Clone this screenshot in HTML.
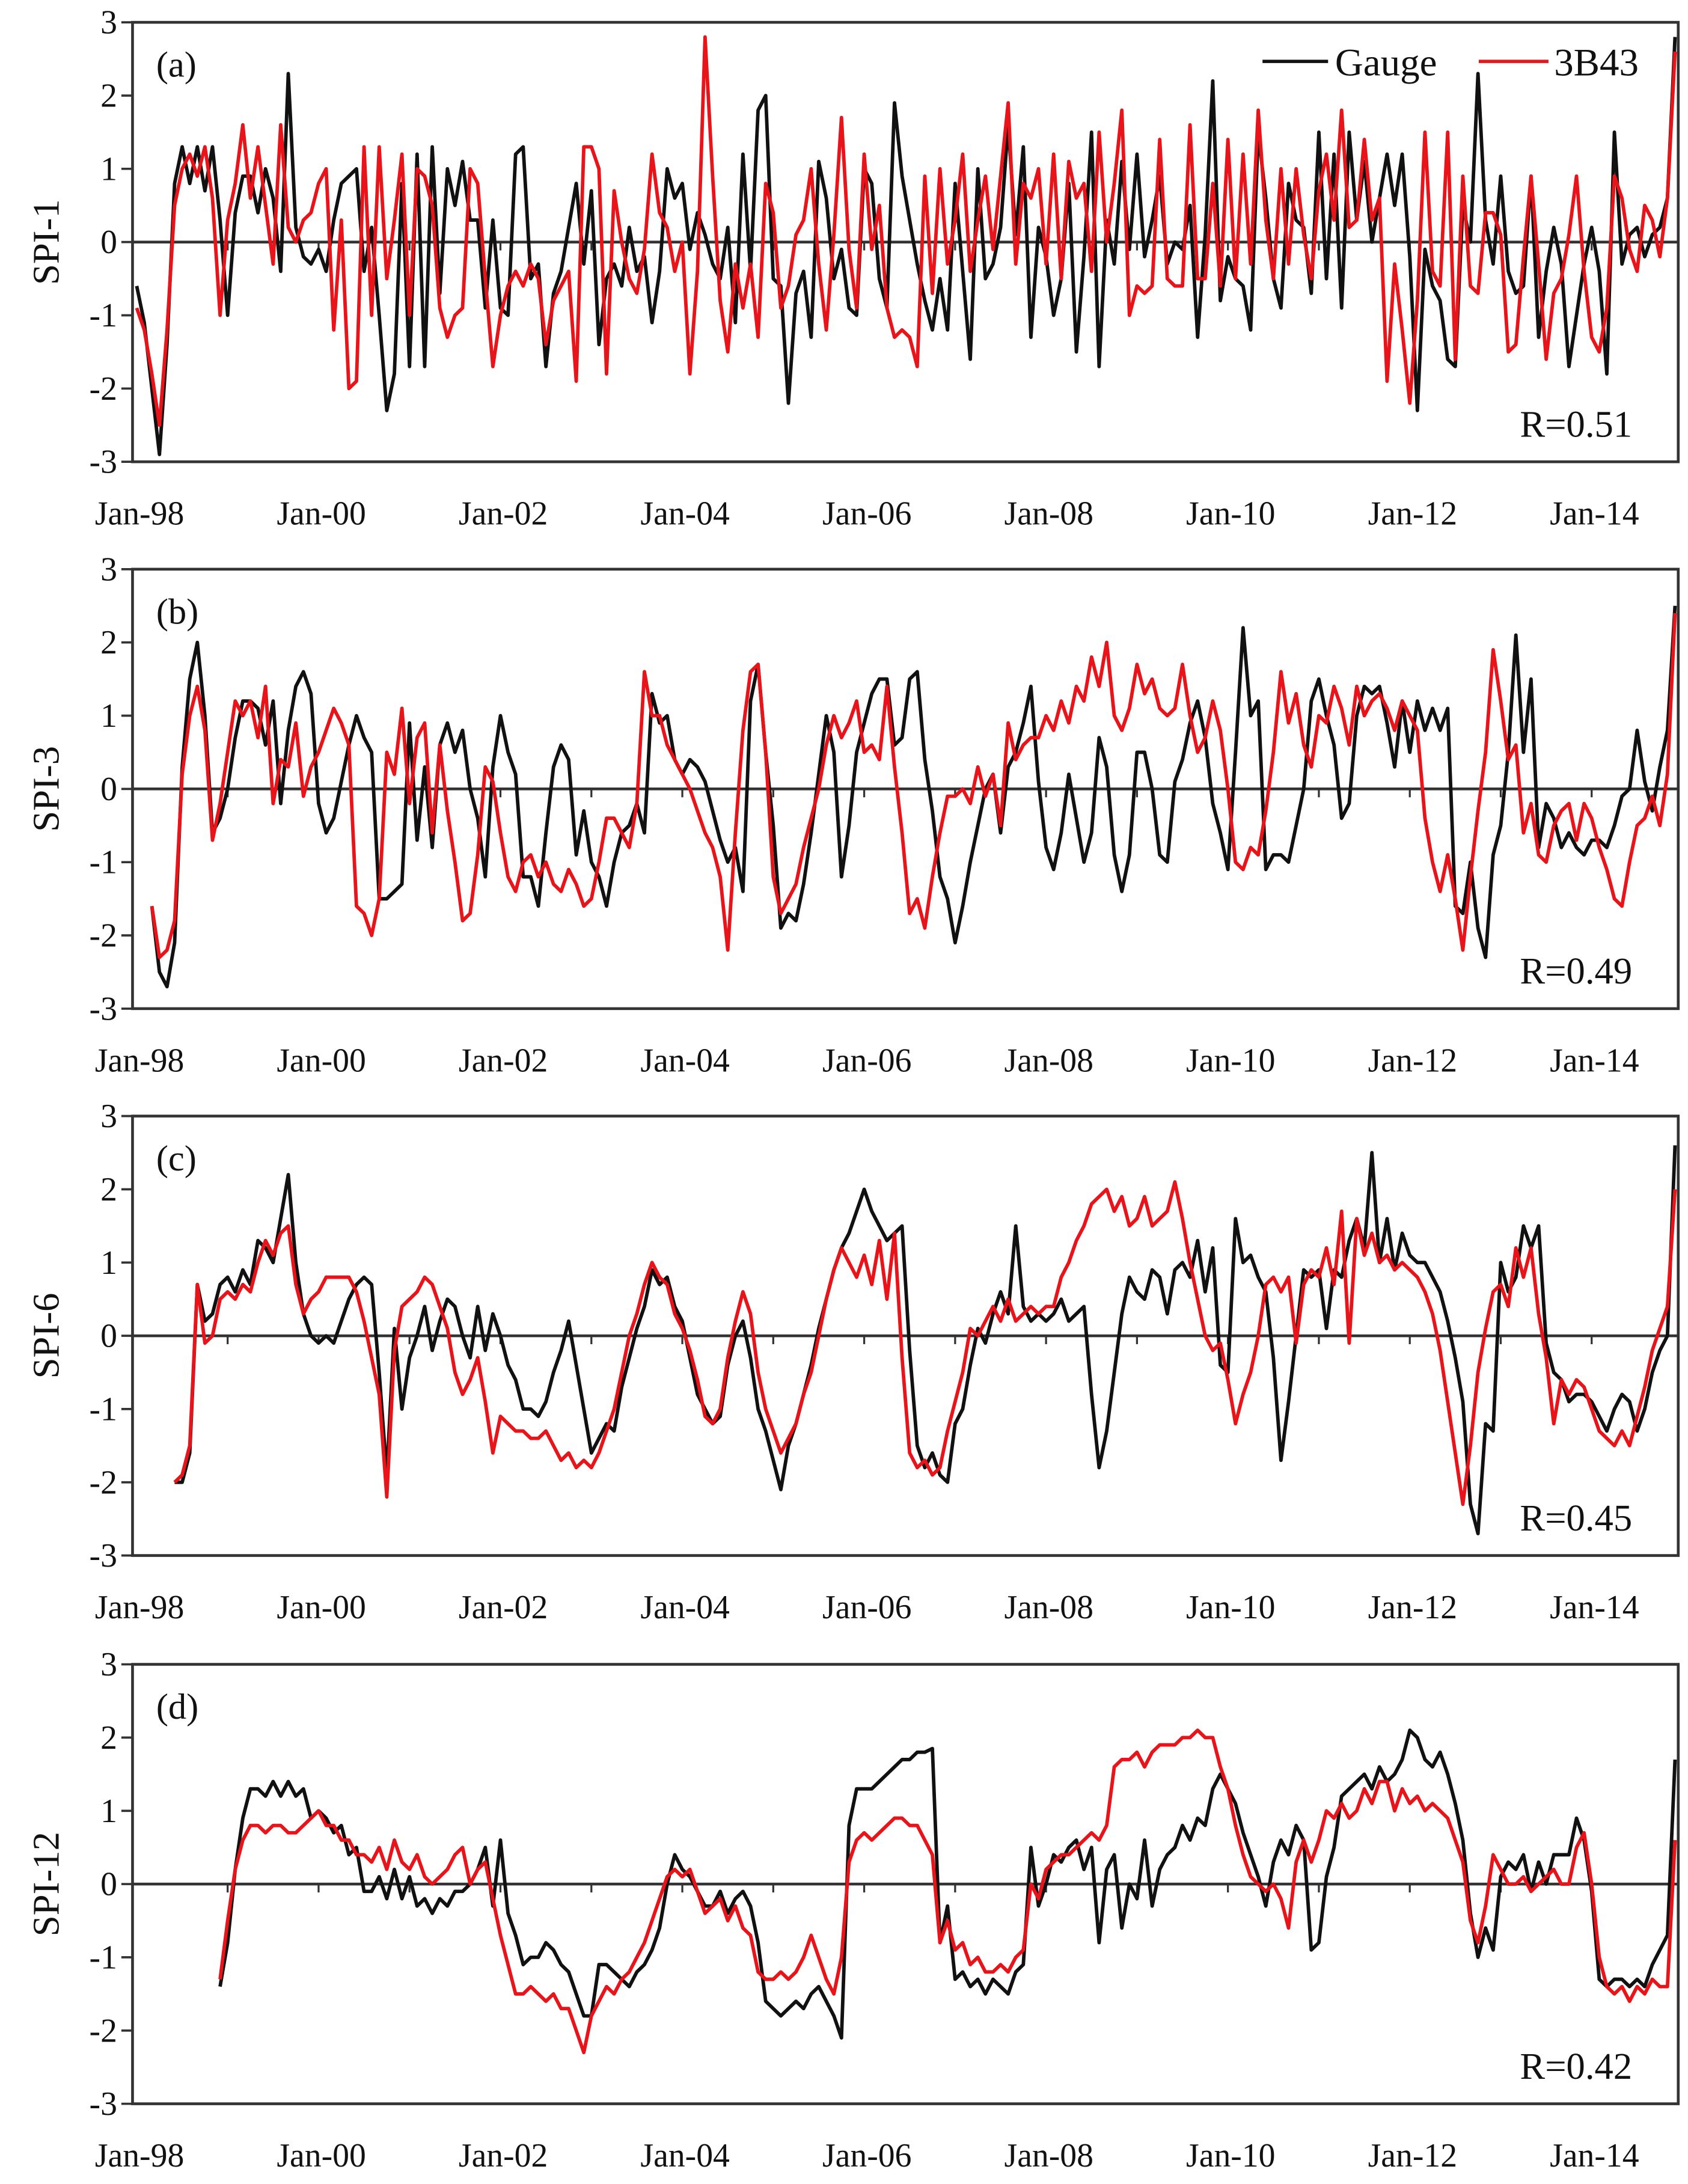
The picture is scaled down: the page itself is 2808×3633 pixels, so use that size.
<!DOCTYPE html>
<html><head><meta charset="utf-8"><style>
html,body{margin:0;padding:0;background:#fff}
svg{display:block}
text{font-family:"Liberation Serif",serif;fill:#111}
</style></head><body>
<svg id="chart" width="2808" height="3633" viewBox="0 0 1210 1565.5" preserveAspectRatio="none" xmlns="http://www.w3.org/2000/svg"></svg>
<script>
const N = null;
const tickLabels = ["Jan-98","Jan-00","Jan-02","Jan-04","Jan-06","Jan-08","Jan-10","Jan-12","Jan-14"];
const yTicks = [3,2,1,0,-1,-2,-3];
const panelLabels = ["(a)","(b)","(c)","(d)"];
const yTitles = ["SPI-1","SPI-3","SPI-6","SPI-12"];
const rValues = ["R=0.51","R=0.49","R=0.45","R=0.42"];

const gaugeA = [-0.6,-1.1,-2.0,-2.9,-1.4,0.8,1.3,0.8,1.3,0.7,1.3,0.3,
-1.0,0.4,0.9,0.9,0.4,1.0,0.6,-0.4,2.3,0.2,-0.2,-0.3,
-0.1,-0.4,0.3,0.8,0.9,1.0,-0.4,0.2,-1.0,-2.3,-1.8,0.8,
-1.7,1.2,-1.7,1.3,-0.7,1.0,0.5,1.1,0.3,0.3,-0.9,0.3,
-0.9,-1.0,1.2,1.3,-0.5,-0.3,-1.7,-0.7,-0.4,0.2,0.8,-0.3,
0.7,-1.4,-0.5,-0.3,-0.6,0.2,-0.4,-0.2,-1.1,-0.4,1.0,0.6,
0.8,-0.1,0.4,0.1,-0.3,-0.5,0.2,-1.1,1.2,-0.4,1.8,2.0,
-0.5,-0.6,-2.2,-0.7,-0.4,-1.3,1.1,0.6,-0.5,-0.1,-0.9,-1.0,
1.0,0.8,-0.5,-0.9,1.9,0.9,0.3,-0.3,-0.8,-1.2,-0.5,-1.2,
0.8,-0.4,-1.6,1.0,-0.5,-0.3,0.2,1.6,0.1,1.3,-1.3,0.2,
-0.2,-1.0,-0.5,0.8,-1.5,-0.2,1.5,-1.7,0.3,-0.3,1.1,-0.1,
1.2,-0.2,0.3,0.9,-0.3,0.0,-0.1,0.5,-1.3,0.1,2.2,-0.8,
-0.2,-0.5,-0.6,-1.2,1.5,0.6,-0.5,-0.9,0.8,0.3,0.2,-0.7,
1.5,-0.5,1.2,-0.9,1.5,0.3,1.1,0.0,0.6,1.2,0.5,1.2,
-0.2,-2.3,-0.1,-0.6,-0.8,-1.6,-1.7,0.5,0.0,2.3,0.3,-0.3,
0.9,-0.4,-0.7,-0.6,0.9,-1.3,-0.4,0.2,-0.3,-1.7,-1.0,-0.3,
0.2,-0.4,-1.8,1.5,-0.3,0.1,0.2,-0.2,0.1,0.2,0.6,2.8];
const satA = [-0.9,-1.2,-1.8,-2.5,-1.2,0.5,1.0,1.2,0.9,1.3,0.6,-1.0,
0.3,0.8,1.6,0.6,1.3,0.5,-0.3,1.6,0.2,0.0,0.3,0.4,
0.8,1.0,-1.2,0.3,-2.0,-1.9,1.3,-1.0,1.3,-0.5,0.3,1.2,
-1.0,1.0,0.9,0.5,-0.9,-1.3,-1.0,-0.9,1.0,0.8,-0.5,-1.7,
-1.0,-0.6,-0.4,-0.6,-0.3,-0.5,-1.4,-0.8,-0.6,-0.4,-1.9,1.3,
1.3,1.0,-1.8,0.7,0.0,-0.5,-0.7,-0.1,1.2,0.4,0.2,-0.4,
0.0,-1.8,-0.4,2.8,0.9,-0.8,-1.5,-0.3,-0.9,-0.3,-1.3,0.8,
0.4,-0.9,-0.6,0.1,0.3,1.0,-0.3,-1.2,0.1,1.7,-0.1,-0.9,
1.2,-0.1,0.5,-0.9,-1.3,-1.2,-1.3,-1.7,0.9,-0.7,1.0,-0.3,
0.3,1.2,-0.4,0.3,0.9,-0.1,0.9,1.9,-0.3,0.8,0.6,1.0,
-0.3,1.2,-0.5,1.1,0.6,0.8,-0.4,1.5,0.0,0.8,1.8,-1.0,
-0.6,-0.7,-0.6,1.4,-0.5,-0.6,-0.6,1.6,-0.5,-0.5,0.8,-0.6,
1.4,-0.5,1.2,-0.3,1.8,0.3,-0.5,1.0,-0.3,1.0,0.1,-0.5,
0.7,1.2,0.3,1.8,0.2,0.3,1.4,0.3,0.6,-1.9,-0.3,-1.2,
-2.2,-0.8,1.5,-0.4,-0.6,1.5,-1.6,0.9,-0.6,-0.7,0.4,0.4,
0.1,-1.5,-1.4,-0.2,0.9,-0.3,-1.6,-0.7,-0.5,0.1,0.9,-0.4,
-1.3,-1.5,-0.9,0.9,0.6,-0.1,-0.4,0.5,0.3,-0.2,0.6,2.6];

const gaugeB = [N,N,-1.6,-2.5,-2.7,-2.1,0.3,1.5,2.0,1.0,-0.6,-0.4,
0.0,0.7,1.2,1.2,1.1,0.6,1.2,-0.2,0.8,1.4,1.6,1.3,
-0.2,-0.6,-0.4,0.1,0.6,1.0,0.7,0.5,-1.5,-1.5,-1.4,-1.3,
0.9,-0.7,0.3,-0.8,0.6,0.9,0.5,0.8,0.0,-0.4,-1.2,0.3,
1.0,0.5,0.2,-1.2,-1.2,-1.6,-0.6,0.3,0.6,0.4,-0.9,-0.3,
-1.0,-1.2,-1.6,-1.0,-0.6,-0.5,-0.2,-0.6,1.3,0.9,1.0,0.4,
0.2,0.4,0.3,0.1,-0.3,-0.7,-1.0,-0.8,-1.4,1.2,1.7,0.5,
-0.5,-1.9,-1.7,-1.8,-1.3,-0.6,0.2,1.0,0.5,-1.2,-0.5,0.5,
0.9,1.3,1.5,1.5,0.6,0.7,1.5,1.6,0.4,-0.3,-1.2,-1.5,
-2.1,-1.6,-1.0,-0.5,0.0,0.2,-0.6,0.3,0.5,0.9,1.4,0.1,
-0.8,-1.1,-0.6,0.2,-0.4,-1.0,-0.6,0.7,0.3,-0.9,-1.4,-0.9,
0.5,0.5,0.0,-0.9,-1.0,0.1,0.4,0.9,1.2,0.7,-0.2,-0.6,
-1.1,0.5,2.2,1.0,1.2,-1.1,-0.9,-0.9,-1.0,-0.5,0.0,1.2,
1.5,1.0,0.6,-0.4,-0.2,1.0,1.4,1.3,1.4,0.9,0.3,1.2,
0.5,1.2,0.8,1.1,0.8,1.1,-1.6,-1.7,-1.0,-1.9,-2.3,-0.9,
-0.5,0.5,2.1,0.5,1.5,-0.8,-0.2,-0.4,-0.8,-0.6,-0.8,-0.9,
-0.7,-0.7,-0.8,-0.5,-0.1,0.0,0.8,0.1,-0.3,0.3,0.8,2.5];
const satB = [N,N,-1.6,-2.3,-2.2,-1.8,0.2,1.0,1.4,0.8,-0.7,-0.2,
0.5,1.2,1.0,1.2,0.7,1.4,-0.2,0.4,0.3,0.9,-0.1,0.3,
0.5,0.8,1.1,0.9,0.6,-1.6,-1.7,-2.0,-1.5,0.5,0.2,1.1,
-0.2,0.7,0.9,-0.6,0.6,-0.3,-1.0,-1.8,-1.7,-0.9,0.3,0.1,
-0.6,-1.2,-1.4,-1.0,-0.9,-1.2,-1.0,-1.3,-1.4,-1.1,-1.3,-1.6,
-1.5,-1.0,-0.4,-0.4,-0.6,-0.8,-0.2,1.6,1.0,1.0,0.6,0.4,
0.2,0.0,-0.3,-0.6,-0.8,-1.2,-2.2,-0.6,0.8,1.6,1.7,0.5,
-1.2,-1.7,-1.5,-1.3,-0.8,-0.4,0.0,0.6,1.0,0.7,0.9,1.2,
0.5,0.6,0.4,1.4,0.3,-0.6,-1.7,-1.5,-1.9,-1.2,-0.6,-0.1,
-0.1,0.0,-0.2,0.3,-0.1,0.2,-0.5,0.9,0.4,0.6,0.7,0.7,
1.0,0.8,1.2,0.9,1.4,1.2,1.8,1.4,2.0,1.0,0.8,1.1,
1.7,1.3,1.5,1.1,1.0,1.1,1.7,1.0,0.5,0.7,1.2,0.8,
0.0,-1.0,-1.1,-0.8,-0.9,-0.3,0.5,1.6,0.9,1.3,0.6,0.3,
1.0,0.9,1.4,1.1,0.6,1.4,1.0,1.2,1.3,1.1,0.8,1.2,
1.0,0.8,-0.4,-1.0,-1.4,-0.9,-1.5,-2.2,-1.2,-0.3,0.5,1.9,
1.2,0.4,0.6,-0.6,-0.2,-0.9,-1.0,-0.5,-0.3,-0.2,-0.7,-0.2,
-0.4,-0.8,-1.1,-1.5,-1.6,-1.0,-0.5,-0.4,-0.1,-0.5,0.2,2.4];

const gaugeC = [N,N,N,N,N,-2.0,-2.0,-1.6,0.7,0.2,0.3,0.7,
0.8,0.6,0.9,0.7,1.3,1.2,1.0,1.6,2.2,1.0,0.3,0.0,
-0.1,0.0,-0.1,0.2,0.5,0.7,0.8,0.7,-0.5,-1.9,0.1,-1.0,
-0.3,0.0,0.4,-0.2,0.2,0.5,0.4,0.0,-0.3,0.4,-0.2,0.3,
0.0,-0.4,-0.6,-1.0,-1.0,-1.1,-0.9,-0.5,-0.2,0.2,-0.4,-1.0,
-1.6,-1.4,-1.2,-1.3,-0.7,-0.3,0.1,0.4,0.9,0.7,0.8,0.4,
0.2,-0.3,-0.8,-1.0,-1.2,-1.1,-0.4,0.0,0.2,-0.3,-1.0,-1.3,
-1.7,-2.1,-1.5,-1.2,-0.8,-0.4,0.1,0.5,0.9,1.2,1.4,1.7,
2.0,1.7,1.5,1.3,1.4,1.5,-0.2,-1.5,-1.8,-1.6,-1.9,-2.0,
-1.2,-1.0,-0.4,0.1,-0.1,0.3,0.6,0.3,1.5,0.4,0.2,0.3,
0.2,0.3,0.5,0.2,0.3,0.4,-0.8,-1.8,-1.3,-0.5,0.3,0.8,
0.6,0.5,0.9,0.8,0.3,0.9,1.0,0.8,1.3,0.6,1.2,-0.4,
-0.5,1.6,1.0,1.1,0.8,0.6,-0.3,-1.7,-0.9,0.0,0.9,0.8,
0.9,0.1,0.9,0.8,1.3,1.6,1.2,2.5,1.0,1.6,0.9,1.4,
1.1,1.0,1.0,0.8,0.6,0.2,-0.3,-0.9,-2.3,-2.7,-1.2,-1.3,
1.0,0.6,0.8,1.5,1.2,1.5,-0.1,-0.5,-0.6,-0.9,-0.8,-0.8,
-0.9,-1.1,-1.3,-1.0,-0.8,-0.9,-1.3,-1.0,-0.5,-0.2,0.0,2.6];
const satC = [N,N,N,N,N,-2.0,-1.9,-1.5,0.7,-0.1,0.0,0.5,
0.6,0.5,0.7,0.6,1.0,1.3,1.1,1.4,1.5,0.7,0.3,0.5,
0.6,0.8,0.8,0.8,0.8,0.6,0.2,-0.3,-0.8,-2.2,-0.2,0.4,
0.5,0.6,0.8,0.7,0.4,0.1,-0.5,-0.8,-0.6,-0.3,-0.9,-1.6,
-1.1,-1.2,-1.3,-1.3,-1.4,-1.4,-1.3,-1.5,-1.7,-1.6,-1.8,-1.7,
-1.8,-1.6,-1.3,-1.0,-0.5,0.0,0.3,0.7,1.0,0.8,0.7,0.3,
0.1,-0.2,-0.6,-1.1,-1.2,-1.0,-0.3,0.2,0.6,0.3,-0.5,-1.0,
-1.3,-1.6,-1.4,-1.2,-0.8,-0.5,0.0,0.5,0.9,1.2,1.0,0.8,
1.1,0.7,1.3,0.5,1.4,-0.3,-1.6,-1.8,-1.7,-1.9,-1.8,-1.3,
-0.9,-0.5,0.1,0.0,0.2,0.4,0.2,0.5,0.2,0.3,0.4,0.3,
0.4,0.4,0.8,1.0,1.3,1.5,1.8,1.9,2.0,1.7,1.9,1.5,
1.6,1.9,1.5,1.6,1.7,2.1,1.6,1.0,0.5,0.0,-0.2,-0.1,
-0.6,-1.2,-0.8,-0.5,0.0,0.7,0.8,0.6,0.8,-0.1,0.7,0.9,
0.8,1.2,0.7,1.7,-0.1,1.6,1.1,1.4,1.0,1.1,0.9,1.0,
0.9,0.8,0.6,0.3,-0.2,-0.9,-1.6,-2.3,-1.5,-0.5,0.1,0.6,
0.7,0.4,1.2,0.8,1.2,0.3,-0.3,-1.2,-0.6,-0.8,-0.6,-0.7,
-1.0,-1.3,-1.4,-1.5,-1.3,-1.5,-1.1,-0.7,-0.2,0.1,0.4,2.0];

const gaugeD = [N,N,N,N,N,N,N,N,N,N,N,-1.4,
-0.8,0.2,0.9,1.3,1.3,1.2,1.4,1.2,1.4,1.2,1.3,0.9,
1.0,0.9,0.7,0.8,0.4,0.5,-0.1,-0.1,0.1,-0.2,0.2,-0.2,
0.1,-0.3,-0.2,-0.4,-0.2,-0.3,-0.1,-0.1,0.0,0.2,0.5,-0.3,
0.6,-0.4,-0.7,-1.1,-1.0,-1.0,-0.8,-0.9,-1.1,-1.2,-1.5,-1.8,
-1.8,-1.1,-1.1,-1.2,-1.3,-1.4,-1.2,-1.1,-0.9,-0.6,0.0,0.4,
0.2,0.1,-0.1,-0.3,-0.3,-0.1,-0.4,-0.2,-0.1,-0.3,-0.8,-1.6,
-1.7,-1.8,-1.7,-1.6,-1.7,-1.5,-1.4,-1.6,-1.8,-2.1,0.8,1.3,
1.3,1.3,1.4,1.5,1.6,1.7,1.7,1.8,1.8,1.85,-0.8,-0.3,
-1.3,-1.2,-1.4,-1.3,-1.5,-1.3,-1.4,-1.5,-1.2,-1.1,0.5,-0.3,
0.0,0.4,0.3,0.5,0.6,0.2,0.5,-0.8,0.2,0.4,-0.6,0.0,
-0.2,0.6,-0.3,0.2,0.4,0.5,0.8,0.6,0.9,0.8,1.3,1.5,
1.3,1.1,0.7,0.4,0.1,-0.3,0.3,0.6,0.4,0.8,0.6,-0.9,
-0.8,0.1,0.5,1.2,1.3,1.4,1.5,1.3,1.6,1.4,1.5,1.7,
2.1,2.0,1.7,1.6,1.8,1.5,1.1,0.6,-0.4,-1.0,-0.6,-0.9,
0.1,0.3,0.2,0.4,-0.1,0.3,0.0,0.4,0.4,0.4,0.9,0.6,
-0.1,-1.3,-1.4,-1.3,-1.3,-1.4,-1.3,-1.4,-1.1,-0.9,-0.7,1.7];
const satD = [N,N,N,N,N,N,N,N,N,N,N,-1.3,
-0.5,0.2,0.6,0.8,0.8,0.7,0.8,0.8,0.7,0.7,0.8,0.9,
1.0,0.8,0.8,0.6,0.6,0.4,0.4,0.3,0.5,0.2,0.6,0.3,
0.2,0.4,0.1,0.0,0.1,0.2,0.4,0.5,0.0,0.2,0.3,-0.2,
-0.7,-1.1,-1.5,-1.5,-1.4,-1.5,-1.6,-1.5,-1.7,-1.7,-2.0,-2.3,
-1.8,-1.6,-1.4,-1.5,-1.3,-1.2,-1.0,-0.8,-0.5,-0.2,0.1,0.2,
0.1,0.2,-0.1,-0.4,-0.3,-0.2,-0.5,-0.3,-0.6,-0.7,-1.2,-1.3,
-1.3,-1.2,-1.3,-1.2,-1.0,-0.7,-1.0,-1.3,-1.5,-1.0,0.3,0.6,
0.7,0.6,0.7,0.8,0.9,0.9,0.8,0.8,0.6,0.4,-0.8,-0.5,
-0.9,-0.8,-1.1,-1.0,-1.2,-1.2,-1.1,-1.2,-1.0,-0.9,0.0,-0.2,
0.2,0.3,0.4,0.4,0.5,0.6,0.7,0.6,0.8,1.6,1.7,1.7,
1.8,1.6,1.8,1.9,1.9,1.9,2.0,2.0,2.1,2.0,2.0,1.6,
1.3,0.8,0.4,0.1,0.0,-0.1,0.0,-0.2,-0.6,0.3,0.6,0.3,
0.6,1.0,0.9,1.1,0.9,1.0,1.3,1.1,1.4,1.4,1.0,1.3,
1.1,1.2,1.0,1.1,1.0,0.9,0.6,0.3,-0.5,-0.8,-0.3,0.4,
0.2,0.0,0.0,0.1,-0.1,0.0,0.1,0.2,0.0,0.0,0.5,0.7,
0.0,-1.0,-1.4,-1.5,-1.4,-1.6,-1.4,-1.5,-1.3,-1.4,-1.4,0.6];

const gaugeSeries = [gaugeA, gaugeB, gaugeC, gaugeD];
const satSeries = [satA, satB, satC, satD];

const NS = "http://www.w3.org/2000/svg";
const svg = document.getElementById("chart");
const left = 95, right = 1203, x0 = 98, monthW = 5.432;
const panelTops = [16, 408, 800, 1193];
const panelH = 315;
function xScale(m){ return x0 + m * monthW; }
function mk(tag, attrs, parent){ const e = document.createElementNS(NS, tag); for (const k in attrs) e.setAttribute(k, attrs[k]); (parent||svg).appendChild(e); return e; }

for (let p = 0; p < 4; p++) {
  const top = panelTops[p], bot = top + panelH;
  const yScale = v => top + (3 - v) / 6 * panelH;
  const g = mk("g", {});
  
  
  const frame = mk("rect", {x:left, y:top, width:right-left, height:panelH, fill:"none", stroke:"#333", "stroke-width":2}, g);
  
  
  yTicks.forEach(v => {
    const y = yScale(v);
    const t = mk("line", {x1:left-8, x2:left, y1:y, y2:y, stroke:"#333", "stroke-width":1.6}, g);
    
    
    const lb = mk("text", {x:84, y:y+8, "text-anchor":"end", "font-size":24}, g);
    lb.textContent = v;
    
    
  });
  const zero = mk("line", {x1:left, x2:right, y1:yScale(0), y2:yScale(0), stroke:"#333", "stroke-width":2}, g);
  
  
  for (let yr = 1; yr < 17; yr++) {
    const x = xScale(yr*12);
    const t = mk("line", {x1:x, x2:x, y1:yScale(0), y2:yScale(0)+6, stroke:"#333", "stroke-width":1.4}, g);
    
    
  }
  tickLabels.forEach((s, i) => {
    const lb = mk("text", {x:xScale(i*24)+2, y:bot+45, "text-anchor":"middle", "font-size":24}, g);
    lb.textContent = s;
    
    
  });
  const yt = mk("text", {x:0, y:0, "text-anchor":"middle", "font-size":27, transform:`translate(42 ${top+panelH/2}) rotate(-90)`}, g);
  yt.textContent = yTitles[p];
  
  
  const pl = mk("text", {x:112, y:top+39, "font-size":26}, g);
  pl.textContent = panelLabels[p];
  
  
  const rl = mk("text", {x:1170, y:bot-18, "text-anchor":"end", "font-size":27}, g);
  rl.textContent = rValues[p];
  
  

  [[gaugeSeries[p], "#111", "series-gauge"], [satSeries[p], "#e8141a", "series-3b43"]].forEach(([arr, col, nm]) => {
    let d = "", pen = false;
    arr.forEach((v, m) => {
      if (v === null) { pen = false; return; }
      d += (pen ? "L" : "M") + xScale(m).toFixed(2) + " " + yScale(v).toFixed(2);
      pen = true;
    });
    const path = mk("path", {d:d, fill:"none", stroke:col, "stroke-width":2.5, "stroke-linejoin":"round"}, g);
    
    
  });
}

const lg = mk("g", {});


const l1 = mk("line", {x1:905, x2:952, y1:44, y2:44, stroke:"#111", "stroke-width":2.4}, lg);


const t1 = mk("text", {x:957, y:54, "font-size":28}, lg);
t1.textContent = "Gauge";


const l2 = mk("line", {x1:1060, x2:1110, y1:44, y2:44, stroke:"#e8141a", "stroke-width":2.4}, lg);


const t2 = mk("text", {x:1114, y:54, "font-size":28}, lg);
t2.textContent = "3B43";


</script>
</body></html>
